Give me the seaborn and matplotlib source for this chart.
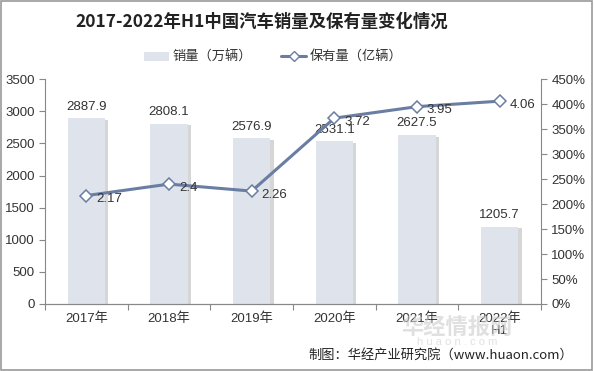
import matplotlib
matplotlib.use("Agg")
import matplotlib.pyplot as plt
import matplotlib.patheffects as pe
from matplotlib.lines import Line2D
from matplotlib.patches import Patch
from matplotlib.ticker import FuncFormatter, FixedLocator
import pandas as pd
import seaborn as sns

years = ["2017年", "2018年", "2019年", "2020年", "2021年", "2022年\nH1"]
sales = [2887.9, 2808.1, 2576.9, 2531.1, 2627.5, 1205.7]
holdings = [2.17, 2.4, 2.26, 3.72, 3.95, 4.06]

bar_color = "#DFE3EC"
line_color = "#6A7DA2"
text_color = "#333333"
num_font = ["Liberation Sans", "DejaVu Sans"]
cjk_font = ["Noto Sans CJK SC", "DejaVu Sans"]

sns.set_style("white")
plt.rcParams["font.family"] = ["Liberation Sans", "Noto Sans CJK SC", "DejaVu Sans"]

df = pd.DataFrame({"year": years, "sales": sales, "holdings": holdings})

fig = plt.figure(figsize=(5.94, 3.71), dpi=100)
ax = fig.add_axes([0.0758, 0.1806, 0.835, 0.606])

sns.barplot(data=df, x="year", y="sales", color=bar_color, width=0.45,
            saturation=1, linewidth=0, edgecolor="none", ax=ax)
for bar in ax.patches:
    bar.set_path_effects([pe.SimplePatchShadow(offset=(2.5, -1), shadow_rgbFace="#9a9a9a", alpha=0.4),
                          pe.Normal()])
for i, v in enumerate(sales):
    ax.text(i, v + 90, f"{v}", ha="center", va="bottom", fontsize=9.5,
            color=text_color, family=num_font)

ax.set_ylim(0, 3500)
ax.set_yticks(range(0, 3501, 500))
ax.set_xlim(-0.5, 5.5)
ax.set_xlabel("")
ax.set_ylabel("")

# holdings on the right axis (shown as percent)
ax2 = ax.twinx()
xs = list(range(len(years)))
ax2.plot(xs, holdings, color=line_color, lw=2.2, marker="D", ms=6.5,
         mfc="white", mec=line_color, mew=1.1, zorder=5)
for i, v in enumerate(holdings):
    ax2.text(i + 0.12, v - 0.07, f"{v:g}", ha="left", va="center",
             fontsize=9.5, color=text_color, family=num_font, zorder=6)
ax2.set_ylim(0, 4.5)
ax2.set_yticks([i * 0.5 for i in range(10)])
ax2.yaxis.set_major_formatter(FuncFormatter(lambda y, _: f"{y * 100:.0f}%"))
ax2.set_xlim(-0.5, 5.5)

for a in (ax, ax2):
    for s in a.spines.values():
        s.set_color("#888888")
        s.set_linewidth(0.8)
    a.spines["top"].set_visible(False)
    a.tick_params(axis="y", labelsize=9.5, colors=text_color, length=4,
                  width=0.8, direction="out", color="#888888")
ax.spines["right"].set_visible(False)
ax2.spines["left"].set_visible(False)
ax.tick_params(axis="y", left=True)
ax2.tick_params(axis="y", right=True)

ax.xaxis.set_minor_locator(FixedLocator([i - 0.5 for i in range(7)]))
ax.tick_params(axis="x", which="major", length=0, labelsize=9.5,
               colors=text_color, pad=6)
ax.tick_params(axis="x", which="minor", length=4, width=0.8,
               color="#888888", bottom=True)
for lbl in ax.get_xticklabels():
    lbl.set_linespacing(1.0)

fig.text(0.44, 0.94, "2017-2022年H1中国汽车销量及保有量变化情况", ha="center",
         va="center", fontsize=12.5, fontweight="bold", color="#222222",
         family=cjk_font)

handles = [Patch(facecolor=bar_color, edgecolor="none", label="销量（万辆）"),
           Line2D([0], [0], color=line_color, lw=2.2, marker="D", ms=5,
                  mfc="white", mec=line_color, label="保有量（亿辆）")]
fig.legend(handles=handles, loc="center", bbox_to_anchor=(0.46, 0.845), ncol=2,
           frameon=False, handlelength=1.9, columnspacing=2.2,
           handletextpad=0.3, labelcolor=text_color,
           prop={"family": cjk_font, "size": 9.5})

fig.text(0.965, 0.043, "制图：华经产业研究院（www.huaon.com）", ha="right",
         va="center", fontsize=9.5, color="#222222", family=cjk_font)

# watermark
fig.text(0.77, 0.118, "华经情报网", ha="center", va="center", fontsize=16,
         color="#cccccc", alpha=0.6, fontweight="bold", family=cjk_font)
fig.text(0.77, 0.078, "h u a o n . c o m", ha="center", va="center",
         fontsize=8, color="#cccccc", alpha=0.6)

fig.patches.append(plt.Rectangle((0.002, 0.003), 0.995, 0.994,
                                 transform=fig.transFigure, fill=False,
                                 edgecolor="#999999", lw=1.2))

fig.savefig("out.png", dpi=100)
